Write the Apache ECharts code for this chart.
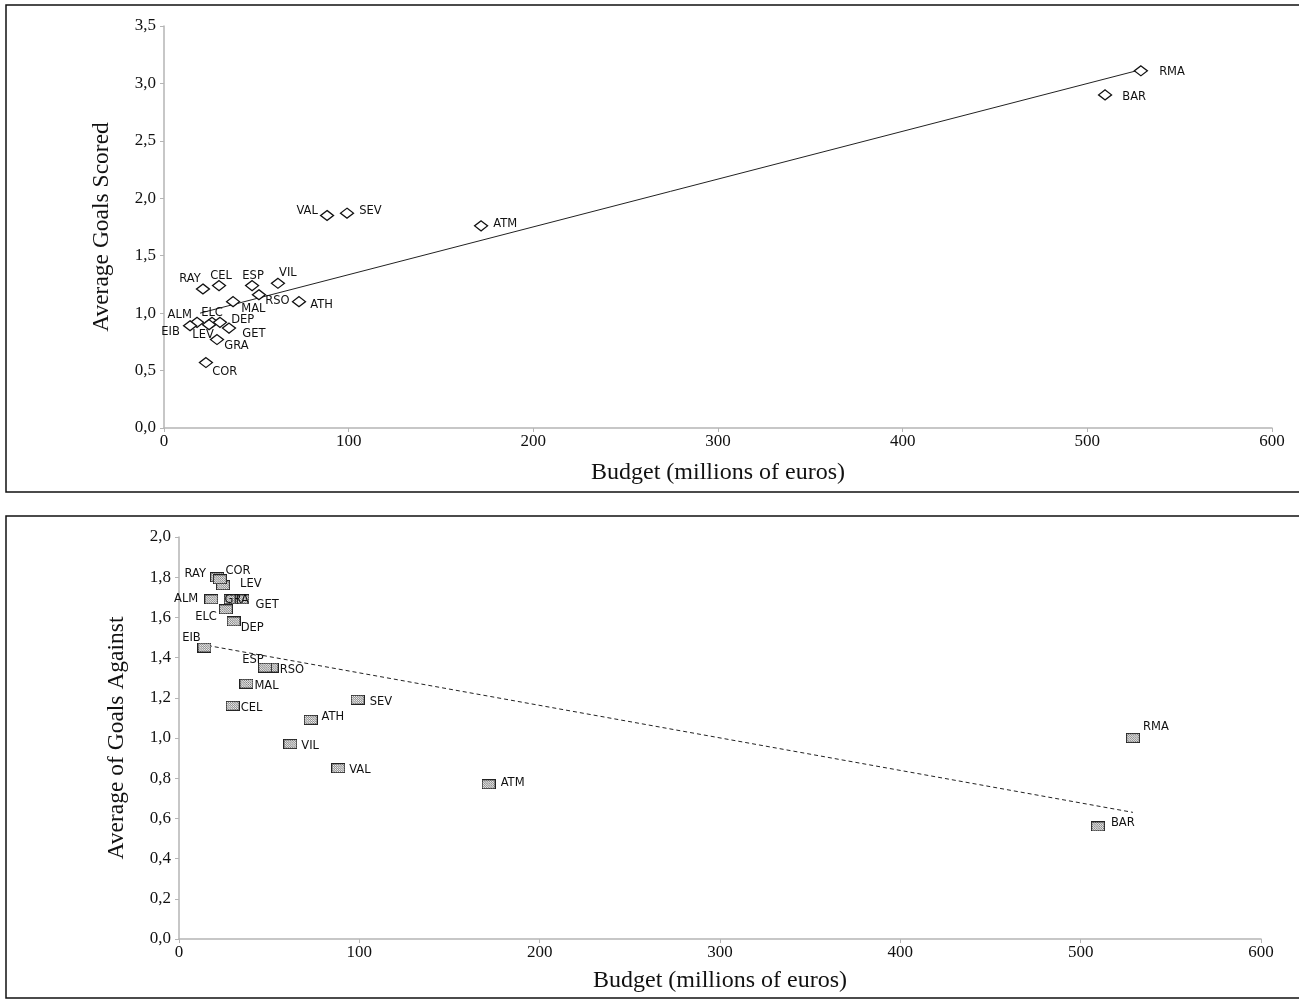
<!DOCTYPE html>
<html>
<head>
<meta charset="utf-8">
<script src="https://cdn.jsdelivr.net/npm/echarts@6/dist/echarts.min.js"></script>
<style>
html,body{margin:0;padding:0;background:#fff;}
#c{width:1299px;height:1000px;}
</style>
</head>
<body>
<div id="c"></div>
<script>
// ---- Data ----
const teams       = ['RMA','BAR','ATM','SEV','VAL','VIL','ATH','RSO','ESP','CEL','RAY','MAL','ALM','ELC','DEP','EIB','LEV','GET','GRA','COR'];
const budget      = [529, 509.6, 171.7, 99.1, 88.3, 61.7, 73.1, 51.4, 47.7, 29.8, 21.1, 37.4, 17.9, 26.0, 30.3, 14.1, 24.4, 35.2, 28.7, 22.7];
const goalsFor    = [3.11, 2.90, 1.76, 1.87, 1.85, 1.26, 1.10, 1.16, 1.24, 1.24, 1.21, 1.10, 0.92, 0.92, 0.92, 0.89, 0.90, 0.87, 0.77, 0.57];
const goalsAgainst= [1.00, 0.56, 0.77, 1.19, 0.85, 0.97, 1.09, 1.35, 1.35, 1.16, 1.80, 1.27, 1.69, 1.64, 1.58, 1.45, 1.76, 1.69, 1.69, 1.79];
const trendFor    = [[19.5, 1.00], [529, 3.12]];
const trendAgainst= [[16, 1.46], [529, 0.63]];

// ---- label placements (styling only) ----
const labTop = {
  RMA:['right',[7,1]], BAR:['right',[6,2]], ATM:['right',[1,-2]], SEV:['right',[1,-2]], VAL:['left',[2,-4]],
  VIL:['top',[10,5]], ATH:['right',[0,3]], RSO:['right',[-5,6]], ESP:['top',[1,6]], CEL:['top',[2,6]],
  RAY:['top',[-13,6]], MAL:['right',[-3,7]], ALM:['left',[6,-7]], ELC:['top',[0,6]], DEP:['right',[0,-2]],
  EIB:['left',[1,6]], LEV:['bottom',[-6,-5]], GET:['right',[2,6]], GRA:['right',[-4,6]], COR:['right',[-5,9]]
};
const labBot = {
  RMA:['top',[23,4]], BAR:['right',[2,-3]], ATM:['right',[1,-1]], SEV:['right',[1,2]], VAL:['right',[0,2]],
  VIL:['right',[0,2]], ATH:['top',[22,12]], RSO:['right',[-3,2]], ESP:['top',[-12,7]], CEL:['right',[-3,2]],
  RAY:['left',[0,-3]], MAL:['right',[-3,2]], ALM:['left',[-2,0]], ELC:['left',[2,8]], DEP:['right',[-4,7]],
  EIB:['top',[-13,5]], LEV:['right',[6,-1]], GET:['right',[2,6]], GRA:['inside',[6,1]], COR:['top',[18,7]]
};

function hatchSquare(w, h){
  const s = 3;
  const cv = document.createElement('canvas');
  cv.width = w*s; cv.height = h*s;
  const g = cv.getContext('2d');
  g.scale(s, s);
  g.fillStyle = '#fff'; g.fillRect(0,0,w,h);
  g.save();
  g.beginPath(); g.rect(0,0,w,h); g.clip();
  g.strokeStyle = '#555'; g.lineWidth = 0.6;
  g.beginPath();
  for (let k = -h; k < w + h; k += 2.2){
    g.moveTo(k, 0); g.lineTo(k + h, h);
  }
  g.stroke();
  g.restore();
  g.strokeStyle = '#222'; g.lineWidth = 1;
  g.strokeRect(0.5, 0.5, w-1, h-1);
  return 'image://' + cv.toDataURL();
}

const labelFont = {fontFamily:'DejaVu Sans', fontSize:11.5, color:'#111'};
function pts(ys, lab){
  return teams.map((t,i)=>({
    value:[budget[i], ys[i]],
    name:t,
    label:{show:true, formatter:t, position:lab[t][0], offset:lab[t][1], distance:4, ...labelFont}
  }));
}

const serif = 'Liberation Serif';
function xAxis(gi, gap){
  return {
    type:'value', gridIndex:gi, min:0, max:600, interval:100,
    name:'Budget (millions of euros)', nameLocation:'middle', nameGap:gap,
    nameTextStyle:{fontFamily:serif, fontSize:24, color:'#111'},
    axisLine:{show:true, lineStyle:{color:'#b5b5b5', width:1.5}},
    axisTick:{show:true, length:4, lineStyle:{color:'#b5b5b5'}},
    axisLabel:{fontFamily:serif, fontSize:17, color:'#111', margin:5},
    splitLine:{show:false}
  };
}
function yAxis(gi, max, interval, name){
  return {
    type:'value', gridIndex:gi, min:0, max:max, interval:interval,
    name:name, nameLocation:'middle', nameGap:50, nameRotate:90,
    nameTextStyle:{fontFamily:serif, fontSize:23.5, color:'#111'},
    axisLine:{show:true, lineStyle:{color:'#b5b5b5', width:1.5}},
    axisTick:{show:true, length:4, lineStyle:{color:'#b5b5b5'}},
    axisLabel:{fontFamily:serif, fontSize:17, color:'#111', margin:8,
      formatter:v=>v.toFixed(1).replace('.',',')},
    splitLine:{show:false}
  };
}

const chart = echarts.init(document.getElementById('c'), null, {renderer:'canvas'});
chart.setOption({
  animation:false,
  backgroundColor:'#fff',
  graphic:[
    {type:'rect', shape:{x:6,y:5,width:1300,height:487}, style:{fill:'none', stroke:'#111', lineWidth:1.5}, silent:true},
    {type:'rect', shape:{x:6,y:516,width:1300,height:482}, style:{fill:'none', stroke:'#111', lineWidth:1.5}, silent:true}
  ],
  grid:[
    {left:164, right:27, top:26, height:402},
    {left:179, right:38, top:537, height:402}
  ],
  xAxis:[xAxis(0, 33), xAxis(1, 30)],
  yAxis:[yAxis(0, 3.5, 0.5, 'Average Goals Scored'), yAxis(1, 2.0, 0.2, 'Average of Goals Against')],
  series:[
    {type:'line', xAxisIndex:0, yAxisIndex:0, data:trendFor, symbol:'none',
     lineStyle:{color:'#222', width:1}, z:1},
    {type:'scatter', xAxisIndex:0, yAxisIndex:0, data:pts(goalsFor, labTop),
     symbol:'diamond', symbolSize:[13,10],
     itemStyle:{color:'#fff', borderColor:'#111', borderWidth:1.3, opacity:1}, z:2},
    {type:'line', xAxisIndex:1, yAxisIndex:1, data:trendAgainst, symbol:'none',
     lineStyle:{color:'#222', width:1, type:[4,3]}, z:1},
    {type:'scatter', xAxisIndex:1, yAxisIndex:1, data:pts(goalsAgainst, labBot),
     symbol:hatchSquare(14,10), symbolSize:[14,10],
     itemStyle:{opacity:1}, z:2}
  ]
});
</script>
</body>
</html>
